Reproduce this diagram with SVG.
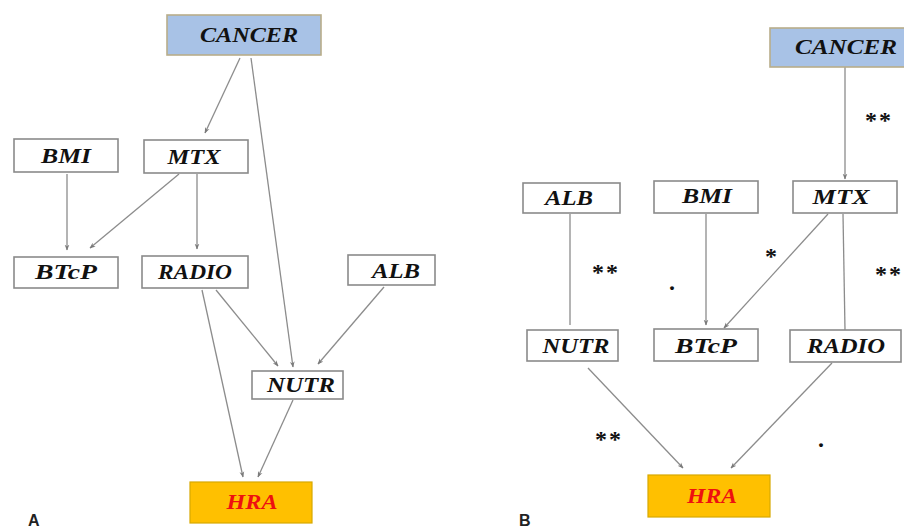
<svg xmlns="http://www.w3.org/2000/svg" width="904" height="530" viewBox="0 0 904 530">
<defs>
<marker id="ah" viewBox="0 0 10 10" refX="9" refY="5" markerWidth="6" markerHeight="6" orient="auto" markerUnits="userSpaceOnUse">
<path d="M0,1 L10,5 L0,9 L3,5 Z" fill="#7a7a7a"/>
</marker>
<style>
.box{fill:#ffffff;stroke:#8a8a8a;stroke-width:1.6}
.blue{fill:#a8c2e6;stroke:#b8ad8a;stroke-width:1.6}
.hra{fill:#ffc000;stroke:#d8a800;stroke-width:1.2}
.t{font-family:"Liberation Serif","Times New Roman",serif;font-weight:bold;font-style:italic;font-size:21px;fill:#111111;text-anchor:middle}
.red{fill:#ee1010}
.ln{stroke:#8c8c8c;stroke-width:1.3;fill:none;marker-end:url(#ah)}
.pl{stroke:#8c8c8c;stroke-width:1.3;fill:none}
.st{font-family:"Liberation Serif",serif;font-weight:bold;font-size:24px;fill:#111111;text-anchor:middle;letter-spacing:2px}
.lab{font-family:"Liberation Sans",Arial,sans-serif;font-weight:bold;font-size:16px;fill:#222222}
</style>
</defs>
<rect width="904" height="530" fill="#ffffff"/>
<g id="connectors">
<line class="ln" x1="240" y1="58" x2="205" y2="133"/>
<line class="ln" x1="251" y1="58" x2="293" y2="367"/>
<line class="ln" x1="67" y1="174" x2="67" y2="250"/>
<line class="ln" x1="179" y1="174" x2="90" y2="248"/>
<line class="ln" x1="197" y1="174" x2="197" y2="249"/>
<line class="ln" x1="216" y1="290" x2="278" y2="366"/>
<line class="ln" x1="202" y1="290" x2="243" y2="477"/>
<line class="ln" x1="384" y1="287" x2="318" y2="364"/>
<line class="ln" x1="293" y1="400" x2="258" y2="477"/>
<line class="ln" x1="845" y1="67" x2="845" y2="179"/>
<line class="pl" x1="570" y1="214" x2="570" y2="325"/>
<line class="ln" x1="706" y1="214" x2="706" y2="325"/>
<line class="ln" x1="828" y1="214" x2="724" y2="328"/>
<line class="pl" x1="843" y1="214" x2="845" y2="330"/>
<line class="ln" x1="588" y1="368" x2="683" y2="468"/>
<line class="ln" x1="832" y1="363" x2="731" y2="468"/>
</g>
<g id="cancer-a"><rect class="blue" x="167" y="15" width="154" height="40"/><text class="t" x="249" y="42" textLength="98" lengthAdjust="spacingAndGlyphs">CANCER</text></g>
<g id="bmi-a"><rect class="box" x="14" y="139" width="104" height="33"/><text class="t" x="66" y="163" textLength="50" lengthAdjust="spacingAndGlyphs">BMI</text></g>
<g id="mtx-a"><rect class="box" x="144" y="140" width="104" height="33"/><text class="t" x="194" y="164" textLength="53" lengthAdjust="spacingAndGlyphs">MTX</text></g>
<g id="btcp-a"><rect class="box" x="14" y="257" width="104" height="31"/><text class="t" x="66" y="279" textLength="62" lengthAdjust="spacingAndGlyphs">BTcP</text></g>
<g id="radio-a"><rect class="box" x="142" y="256" width="106" height="32"/><text class="t" x="195" y="279" textLength="74" lengthAdjust="spacingAndGlyphs">RADIO</text></g>
<g id="alb-a"><rect class="box" x="348" y="255" width="87" height="30"/><text class="t" x="396" y="278" textLength="48" lengthAdjust="spacingAndGlyphs">ALB</text></g>
<g id="nutr-a"><rect class="box" x="252" y="371" width="91" height="28"/><text class="t" x="301" y="392" textLength="68" lengthAdjust="spacingAndGlyphs">NUTR</text></g>
<g id="hra-a"><rect class="hra" x="190" y="482" width="122" height="41"/><text class="t red" x="252" y="509" textLength="51" lengthAdjust="spacingAndGlyphs">HRA</text></g>
<g id="cancer-b"><rect class="blue" x="770" y="28" width="140" height="39"/><text class="t" x="846" y="54" textLength="102" lengthAdjust="spacingAndGlyphs">CANCER</text></g>
<g id="alb-b"><rect class="box" x="523" y="183" width="97" height="30"/><text class="t" x="569" y="205" textLength="48" lengthAdjust="spacingAndGlyphs">ALB</text></g>
<g id="bmi-b"><rect class="box" x="654" y="181" width="104" height="32"/><text class="t" x="707" y="203" textLength="50" lengthAdjust="spacingAndGlyphs">BMI</text></g>
<g id="mtx-b"><rect class="box" x="793" y="181" width="104" height="32"/><text class="t" x="841" y="204" textLength="57" lengthAdjust="spacingAndGlyphs">MTX</text></g>
<g id="nutr-b"><rect class="box" x="527" y="330" width="91" height="31"/><text class="t" x="576" y="353" textLength="67" lengthAdjust="spacingAndGlyphs">NUTR</text></g>
<g id="btcp-b"><rect class="box" x="654" y="329" width="104" height="32"/><text class="t" x="706" y="353" textLength="62" lengthAdjust="spacingAndGlyphs">BTcP</text></g>
<g id="radio-b"><rect class="box" x="790" y="330" width="111" height="32"/><text class="t" x="846" y="353" textLength="78" lengthAdjust="spacingAndGlyphs">RADIO</text></g>
<g id="hra-b"><rect class="hra" x="648" y="475" width="122" height="42"/><text class="t red" x="712" y="503" textLength="50" lengthAdjust="spacingAndGlyphs">HRA</text></g>
<g id="stars">
<text class="st" x="879" y="128">**</text>
<text class="st" x="606" y="280">**</text>
<text class="st" x="673" y="290">.</text>
<text class="st" x="772" y="264">*</text>
<text class="st" x="889" y="282">**</text>
<text class="st" x="609" y="447">**</text>
<text class="st" x="822" y="447">.</text>
</g>
<text class="lab" x="28" y="526">A</text>
<text class="lab" x="519" y="526">B</text>
</svg>
